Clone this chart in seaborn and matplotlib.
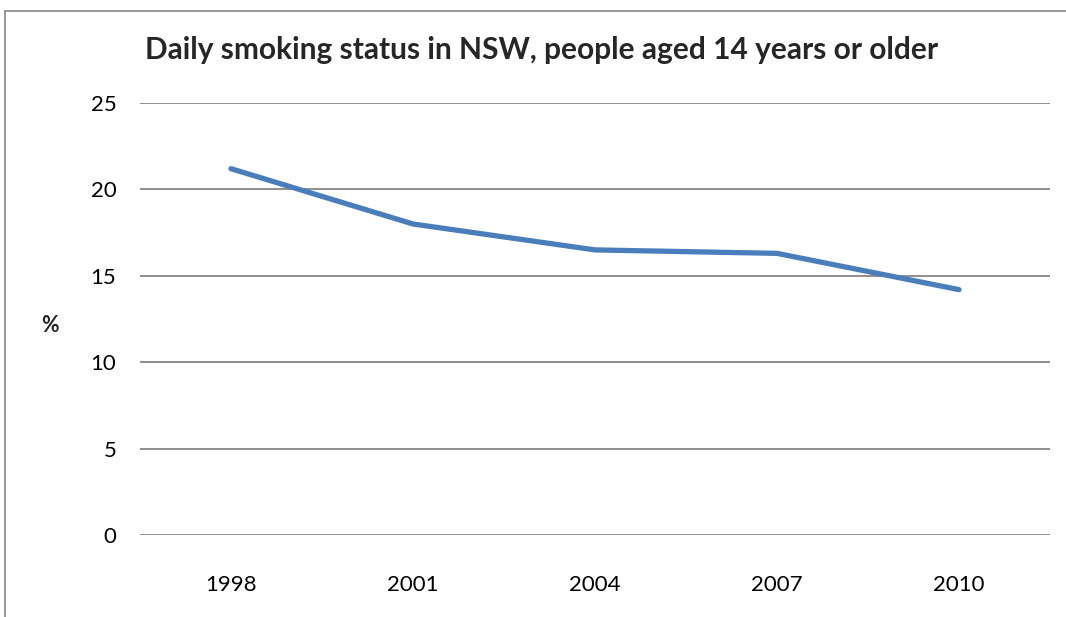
import matplotlib
matplotlib.use("Agg")
import matplotlib.pyplot as plt
from matplotlib.lines import Line2D
import seaborn as sns
import pandas as pd

years = ["1998", "2001", "2004", "2007", "2010"]
daily_smokers_pct = [21.2, 18.0, 16.5, 16.3, 14.2]
y_ticks = [0, 5, 10, 15, 20, 25]

title = "Daily smoking status in NSW, people aged 14 years or older"

sns.set_theme(style="white")
plt.rcParams["font.family"] = ["Lato", "DejaVu Sans"]

df = pd.DataFrame({"year": years, "pct": daily_smokers_pct})

fig = plt.figure(figsize=(10.66, 6.17), dpi=100)
ax = fig.add_axes([0.1313, 0.1329, 0.985 - 0.1313, 0.833 - 0.1329])

sns.lineplot(data=df, x="year", y="pct", ax=ax, color="#4a7ebb",
             linewidth=3.8, solid_capstyle="round", solid_joinstyle="round",
             zorder=3)

ax.set_xlim(-0.5, len(years) - 0.5)
ax.set_ylim(0, 25)
ax.set_yticks(y_ticks)
ax.set_yticklabels([str(t) for t in y_ticks])
ax.yaxis.grid(True, color="#868686", linewidth=1.3)
ax.xaxis.grid(False)
for s in ax.spines.values():
    s.set_visible(False)
ax.tick_params(axis="both", length=0, labelsize=16, colors="#000000")
ax.tick_params(axis="y", pad=17)
ax.tick_params(axis="x", pad=29)
ax.set_xlabel("")
ax.set_ylabel("")

fig.text(0.0468, 1 - 325 / 617, "%", fontsize=15.5, fontweight="bold",
         ha="center", va="center")
fig.text(0.508, 1 - 50 / 617, title, fontsize=21.5, fontweight="bold",
         ha="center", va="center")

# chart frame (top and left edges)
frame_kw = dict(color="#868686", linewidth=1.2, transform=fig.transFigure)
fig.add_artist(Line2D([5 / 1066, 1.0], [1 - 11 / 617, 1 - 11 / 617], **frame_kw))
fig.add_artist(Line2D([5 / 1066, 5 / 1066], [0.0, 1 - 11 / 617], **frame_kw))

fig.savefig("out.png", dpi=100, facecolor="white")
